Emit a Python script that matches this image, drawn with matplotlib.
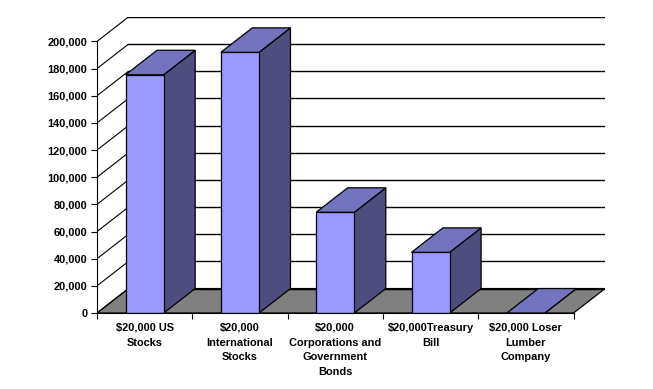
import matplotlib
matplotlib.use('Agg')
import matplotlib.pyplot as plt
from matplotlib.patches import Polygon

categories = ['$20,000 US\nStocks', '$20,000\nInternational\nStocks',
              '$20,000\nCorporations and\nGovernment\nBonds',
              '$20,000Treasury\nBill', '$20,000 Loser\nLumber\nCompany']
values = [175500, 192000, 74200, 44700, 0]
y_ticks = list(range(0, 200001, 20000))

# depth of the fake 3d box, in data units
DX = 0.33
DY = 18000
BAR_W = 0.4

FRONT = '#9999ff'
SIDE = '#4d4d80'
TOP = '#7373bf'
FLOOR = '#808080'

plt.rcParams['font.family'] = ['Liberation Sans', 'DejaVu Sans']
plt.rcParams['font.weight'] = 'bold'

fig = plt.figure(figsize=(6.53, 3.89), dpi=100)
ax = fig.add_axes([97 / 653, 76 / 389, 508 / 653, 296 / 389])
n = len(categories)
ax.set_xlim(0, n + DX)
ax.set_ylim(0, y_ticks[-1] + DY)

# floor
ax.add_patch(Polygon([(0, 0), (n, 0), (n + DX, DY), (DX, DY)],
                     closed=True, facecolor=FLOOR, edgecolor='black', lw=0.9, zorder=1))

# gridlines on side wall and back wall
for v in y_ticks:
    ax.plot([0, DX], [v, v + DY], color='black', lw=0.8, zorder=1.5, solid_capstyle='butt')
    ax.plot([DX, n + DX], [v + DY, v + DY], color='black', lw=1.0, zorder=1.5)

# bars
for i, val in enumerate(values):
    x0 = i + 0.5 - BAR_W / 2
    x1 = x0 + BAR_W
    ax.add_patch(Polygon([(x1, 0), (x1 + DX, DY), (x1 + DX, val + DY), (x1, val)],
                         closed=True, facecolor=SIDE, edgecolor='black', lw=0.9, zorder=3))
    ax.add_patch(Polygon([(x0, 0), (x1, 0), (x1, val), (x0, val)],
                         closed=True, facecolor=FRONT, edgecolor='black', lw=0.9, zorder=3))
    ax.add_patch(Polygon([(x0, val), (x1, val), (x1 + DX, val + DY), (x0 + DX, val + DY)],
                         closed=True, facecolor=TOP, edgecolor='black', lw=0.9, zorder=3))

for s in ['top', 'right']:
    ax.spines[s].set_visible(False)
ax.spines['left'].set_bounds(0, y_ticks[-1])
ax.spines['bottom'].set_bounds(0, n)
ax.spines['left'].set_zorder(4)
ax.spines['bottom'].set_zorder(4)

ax.set_yticks(y_ticks)
ax.set_yticklabels(['{:,}'.format(v) for v in y_ticks])
ax.tick_params(axis='y', length=4, pad=3, labelsize=7.9)

ax.set_xticks(range(n + 1))
ax.set_xticklabels([])
ax.set_xticks([i + 0.5 for i in range(n)], minor=True)
ax.set_xticklabels(categories, minor=True, linespacing=1.6)
ax.tick_params(axis='x', which='major', length=4)
ax.tick_params(axis='x', which='minor', length=0, pad=7, labelsize=7.9)

fig.savefig('out.png', dpi=100)
